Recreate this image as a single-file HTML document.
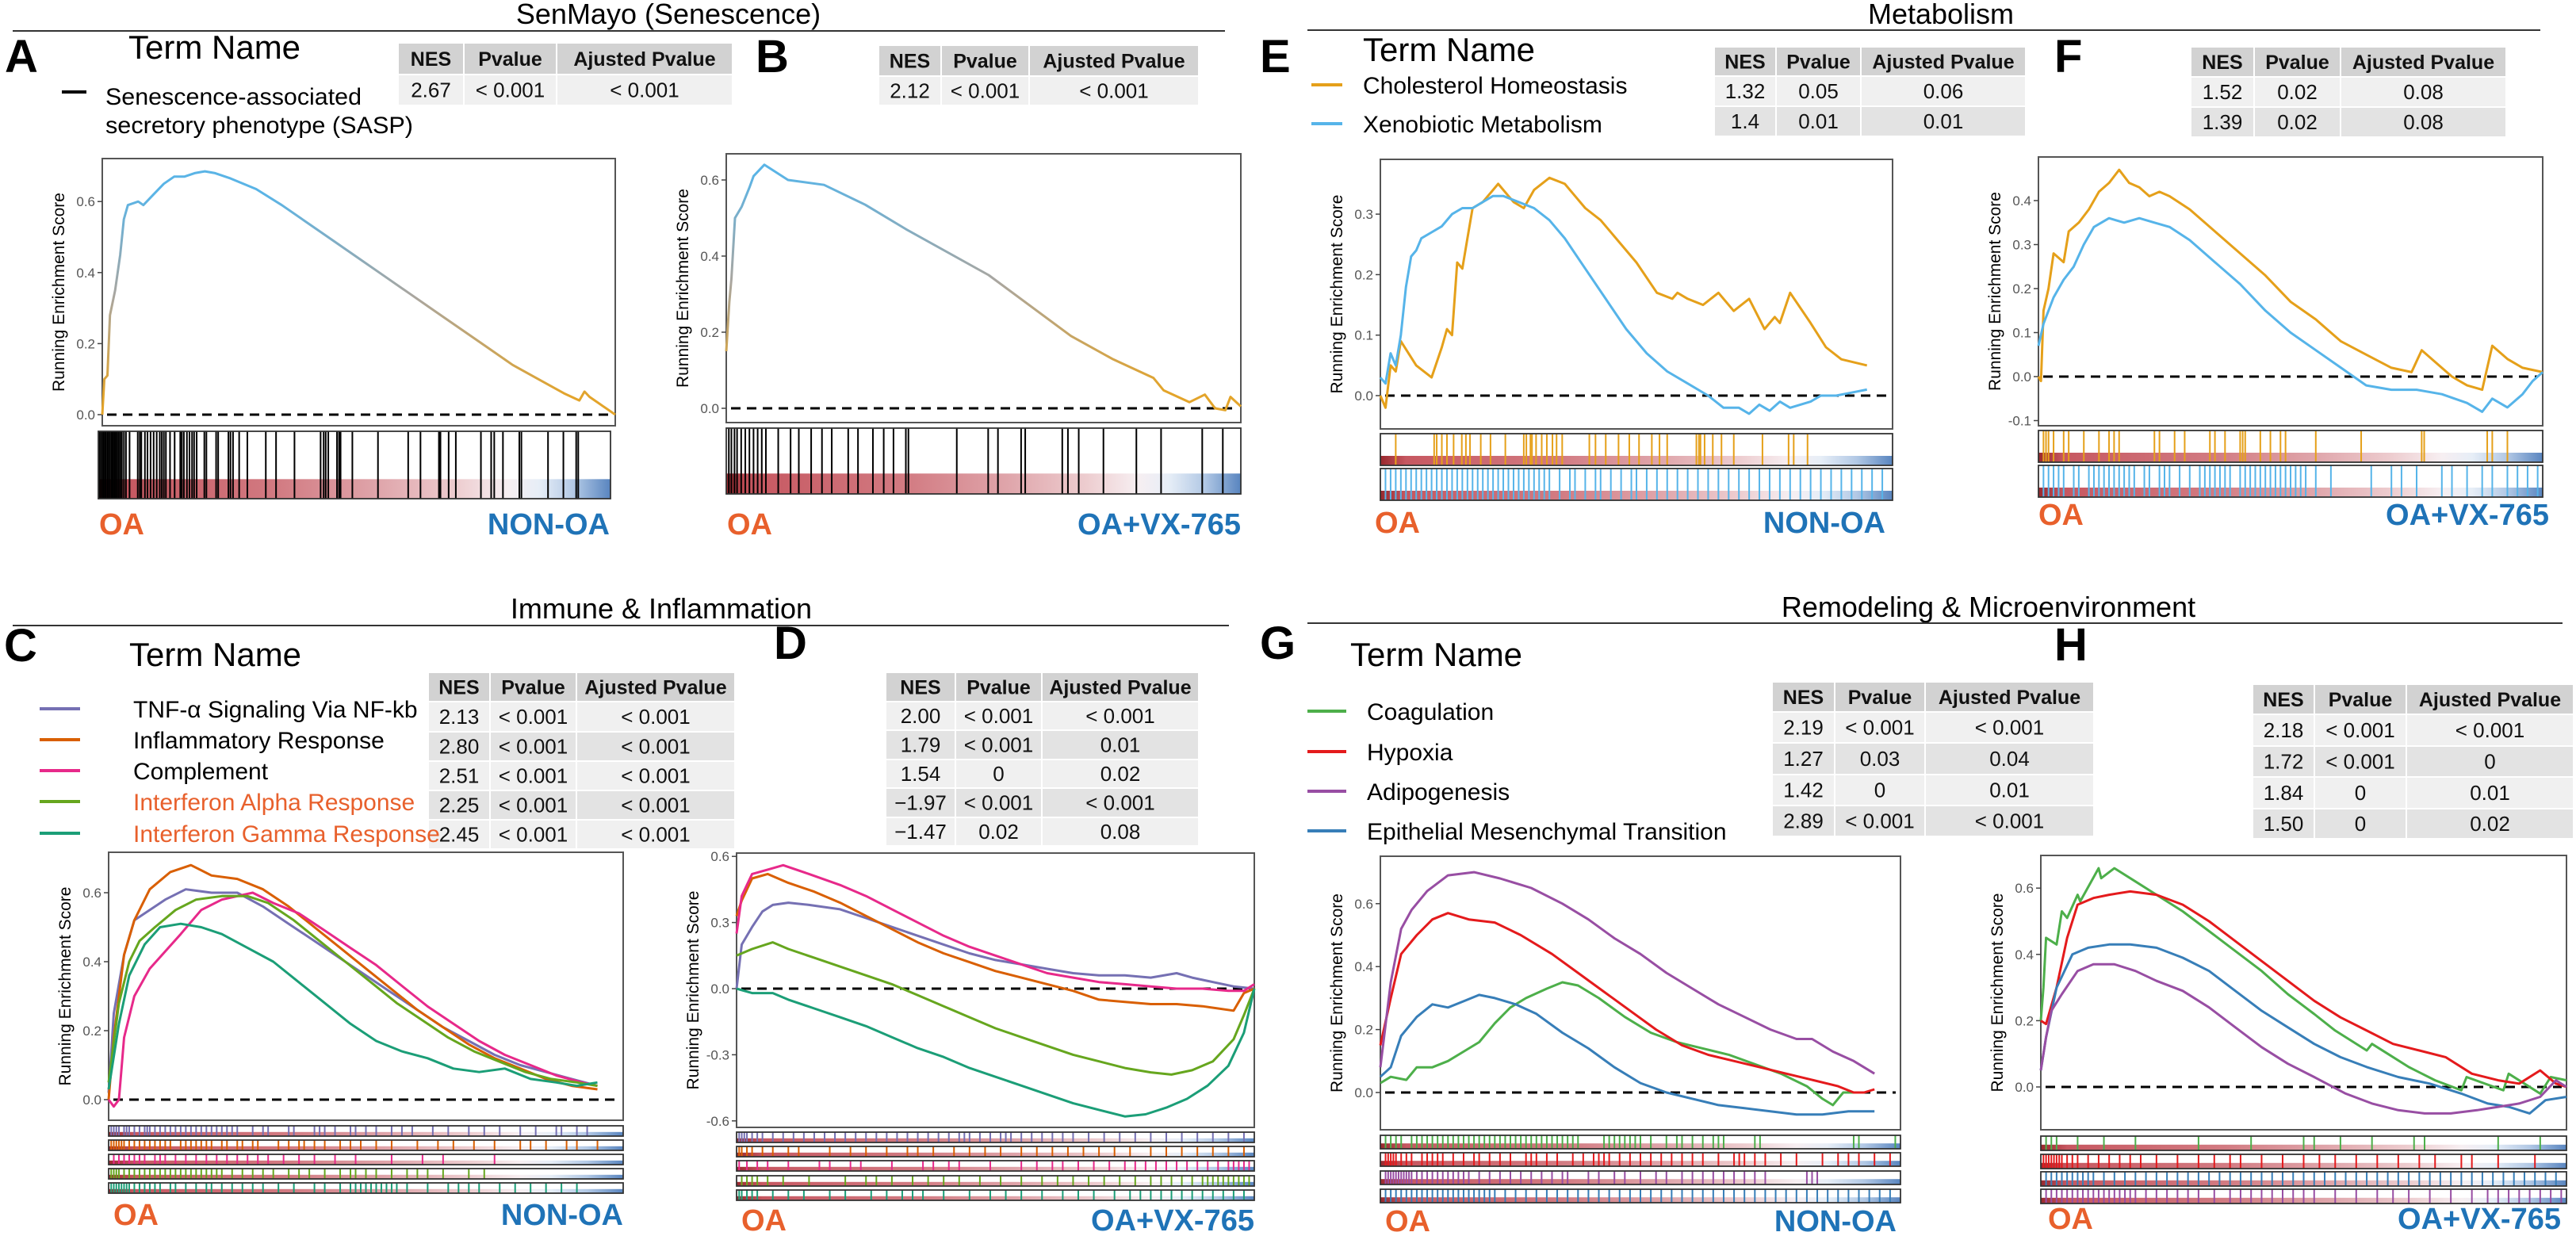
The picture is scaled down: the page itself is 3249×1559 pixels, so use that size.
<!DOCTYPE html>
<html><head><meta charset="utf-8">
<style>
html,body{margin:0;padding:0;background:#fff;}
svg{display:block;font-family:"Liberation Sans",sans-serif;}
</style></head>
<body>
<svg id="fig" xmlns="http://www.w3.org/2000/svg" width="3249" height="1559" viewBox="0 0 3249 1559">
<defs>
<linearGradient id="heat" x1="0" y1="0" x2="1" y2="0">
<stop offset="0" stop-color="#8e1016"/><stop offset="0.05" stop-color="#c0454f"/><stop offset="0.35" stop-color="#cd6c74"/><stop offset="0.55" stop-color="#dc9ca2"/><stop offset="0.7" stop-color="#ebc7ca"/><stop offset="0.8" stop-color="#f6edf0"/><stop offset="0.86" stop-color="#e4ecf6"/><stop offset="0.93" stop-color="#a9c2e2"/><stop offset="1" stop-color="#4677b8"/>
</linearGradient>
</defs>
<g font-size="36" text-anchor="middle" fill="#000">
<text x="843" y="30">SenMayo (Senescence)</text>
<text x="2448" y="30">Metabolism</text>
<text x="834" y="780">Immune &amp; Inflammation</text>
<text x="2508" y="778">Remodeling &amp; Microenvironment</text>
</g>
<g stroke="#333" stroke-width="2">
<line x1="16" y1="39" x2="1545" y2="39"/>
<line x1="1649" y1="38" x2="3204" y2="38"/>
<line x1="16" y1="789" x2="1550" y2="789"/>
<line x1="1649" y1="786" x2="3232" y2="786"/>
</g>
<g font-size="58" font-weight="bold">
<text x="6" y="91">A</text>
<text x="953" y="91">B</text>
<text x="1589" y="91">E</text>
<text x="2591" y="91">F</text>
<text x="5" y="834">C</text>
<text x="976" y="831">D</text>
<text x="1589" y="831">G</text>
<text x="2591" y="833">H</text>
</g>
<g font-size="42">
<text x="162" y="74">Term Name</text>
<text x="1719" y="77">Term Name</text>
<text x="163" y="840">Term Name</text>
<text x="1703" y="840">Term Name</text>
</g>
<g font-size="30">
<line x1="78" y1="116" x2="109" y2="116" stroke="#000" stroke-width="4"/>
<text x="133" y="132" textLength="323" lengthAdjust="spacingAndGlyphs">Senescence-associated</text>
<text x="133" y="168" textLength="388" lengthAdjust="spacingAndGlyphs">secretory phenotype (SASP)</text>
</g>
<g id="content"></g>
</svg>
<script>
// ---------- data: x = rank position (%), y = running enrichment score ----------
const axA = [0,0.4,1,1.5,2.5,3.5,4.2,5,7,8,10,12,14,16,18,20,22,25,30,35,40,45,50,55,60,65,70,75,80,85,90,93,94,95,100];
const ayA = [0,0.10,0.11,0.28,0.35,0.45,0.55,0.59,0.60,0.59,0.62,0.65,0.67,0.67,0.68,0.685,0.68,0.665,0.635,0.59,0.54,0.49,0.44,0.39,0.34,0.29,0.24,0.19,0.14,0.10,0.06,0.04,0.065,0.05,0.0];
const hitsA = [0.2,0.5,0.8,1,1.3,1.5,1.8,2,2.3,2.6,2.8,3.1,3.4,3.7,4,4.3,4.6,5,5.4,6.1,7.7,8.1,8.4,9.1,9.6,10.2,10.8,11.4,12,12.4,12.8,13.2,14,14.9,16,16.3,16.7,17.3,17.8,18.3,18.7,19.2,20.7,21.1,23,23.4,25.4,25.8,26.3,27.5,29.1,32.7,34.7,38.3,43.4,44,44.4,44.9,46.6,47,47.3,49.6,54.6,60.5,62.9,66.5,66.8,68.4,69.8,74.7,76.7,77.3,79,82.2,82.6,87.8,90.8,93.3,93.7];

const bxB = [0,0.6,1,1.7,3,4.5,5.3,7.4,12,19,27,35,51,67,75,83,85,90,93,95,97,98,100];
const byB = [0.15,0.28,0.34,0.50,0.53,0.58,0.61,0.64,0.60,0.587,0.535,0.47,0.35,0.19,0.13,0.08,0.047,0.016,0.036,0.0,-0.005,0.03,0.005];
const hitsB = [0.5,1,1.6,2.1,2.9,3.7,4.5,5.3,6.1,6.9,7.7,10.1,12.5,14.1,16.5,18.6,20.5,23.7,25.6,28.5,30.6,32.5,34.9,35.4,44.8,50.9,52.8,57.3,58.1,65.3,66.4,68.5,73.3,79.7,84.5,92.5,96.5];

const cx1 = [0,1,3,5,8,11,15,20,25,30,35,40,45,50,55,60,65,70,75,80,85,90,95];
const cy1 = [0.02,0.25,0.42,0.52,0.55,0.58,0.61,0.60,0.60,0.56,0.51,0.46,0.41,0.36,0.31,0.26,0.21,0.17,0.13,0.10,0.08,0.06,0.04];
const cx2 = [0,1,3,5,8,12,16,20,25,30,35,40,45,50,55,60,65,70,75,80,85,90,95];
const cy2 = [0,0.18,0.42,0.52,0.61,0.66,0.68,0.65,0.64,0.61,0.56,0.50,0.44,0.38,0.32,0.26,0.21,0.16,0.12,0.09,0.06,0.04,0.03];
const cx3 = [0,1,2,3,5,8,11,14,18,22,28,32,37,42,47,52,57,62,67,72,77,82,87,92,95];
const cy3 = [0,-0.02,0,0.18,0.30,0.38,0.43,0.48,0.55,0.58,0.60,0.57,0.54,0.49,0.44,0.39,0.33,0.27,0.22,0.17,0.13,0.10,0.07,0.05,0.04];
const cx4 = [0,2,4,6,9,13,17,22,27,31,36,41,46,51,56,61,66,71,76,81,86,91,95];
const cy4 = [0.05,0.28,0.40,0.46,0.50,0.55,0.58,0.59,0.59,0.57,0.52,0.46,0.40,0.34,0.28,0.23,0.18,0.14,0.11,0.08,0.06,0.05,0.04];
const cx5 = [0,2,4,7,10,14,18,22,27,32,37,42,47,52,57,62,67,72,77,82,87,91,95];
const cy5 = [0.03,0.22,0.36,0.45,0.50,0.51,0.50,0.48,0.44,0.40,0.34,0.28,0.22,0.17,0.14,0.12,0.09,0.08,0.09,0.06,0.05,0.04,0.05];
const hitsC1 = [0.5,1,1.5,2,3,3.5,4,5,6,7,7.5,8,9,10,11,12,13,14,15,16,17,18,19,20,21,22,23,24,25,28,30,31,35,36,40,41,42,44,47,48,50,52,55,57,59,63,66,70,73,76,80,83,87,88,91,93];
const hitsC2 = [0.5,1,1.5,2,2.5,3,4,5,6,7,8,9,10,11,12,14,15,16,17,18,19,20,22,23,25,26,28,29,33,35,37,38,40,42,45,47,49,52,55,60,64,67,71,75,80,82,85,89,91,95];
const hitsC3 = [1,2,3,4,5,6,7,9,10,11,13,15,17,19,21,23,25,27,29,31,34,37,40,44,48,55,61,65,75];
const hitsC4 = [0.5,1,1.5,2,3,4,5,6,7,8,9,10,11,12,13,14,15,16,17,18,19,20,21,22,24,26,28,30,32,35,37,39,42,45,47,48,50,52,55,58,60,62,65,70,73];
const hitsC5 = [0.5,1,1.5,2,2.5,3,3.5,4,5,6,7,8,9,10,12,13,15,17,19,20,22,24,26,28,30,33,36,40,42,45,47,48,49,50,51,52,53,54,55,56,58,62,66,68,70,72,76,79,82,85,88,91];

const dx1 = [0,1,3,5,7,10,14,20,25,30,35,40,45,50,55,60,65,70,75,80,85,88,92,96,100];
const dy1 = [0,0.2,0.28,0.35,0.38,0.39,0.38,0.36,0.32,0.28,0.24,0.20,0.16,0.13,0.11,0.09,0.07,0.06,0.06,0.05,0.07,0.05,0.03,0.01,0];
const dx2 = [0,1,3,6,10,15,20,25,30,35,40,45,50,55,60,65,70,75,80,85,90,96,98,100];
const dy2 = [0.33,0.40,0.50,0.52,0.48,0.44,0.39,0.33,0.27,0.21,0.16,0.12,0.08,0.05,0.02,-0.01,-0.05,-0.06,-0.07,-0.07,-0.08,-0.10,-0.02,0];
const dx3 = [0,1,3,6,9,14,20,25,30,35,40,45,50,55,60,65,70,75,80,85,90,95,98,100];
const dy3 = [0.25,0.42,0.52,0.54,0.56,0.52,0.47,0.42,0.36,0.30,0.24,0.19,0.15,0.11,0.07,0.05,0.03,0.02,0.01,0,0,-0.01,-0.01,0.02];
const dx4 = [0,3,7,10,15,20,25,30,35,40,45,50,55,60,65,70,75,80,84,88,92,96,98,100];
const dy4 = [0.15,0.18,0.21,0.18,0.14,0.10,0.06,0.02,-0.03,-0.08,-0.13,-0.18,-0.22,-0.26,-0.30,-0.33,-0.36,-0.38,-0.39,-0.37,-0.33,-0.23,-0.12,0];
const dx5 = [0,3,7,10,15,20,25,30,35,40,45,50,55,60,65,70,75,79,83,87,91,95,98,100];
const dy5 = [0,-0.02,-0.02,-0.05,-0.09,-0.13,-0.17,-0.22,-0.27,-0.31,-0.36,-0.40,-0.44,-0.48,-0.52,-0.55,-0.58,-0.57,-0.54,-0.50,-0.44,-0.35,-0.2,0];
const hitsD1 = [0.5,1,1.5,2,3,4,5,7,9,11,13,15,17,19,21,23,25,27,29,31,33,35,37,39,41,43,44,45,47,49,51,52,53,55,57,59,61,63,65,68,71,74,77,80,83,86,89,92,95,98];
const hitsD2 = [0.5,1,2,3,5,7,10,12,18,22,25,29,33,35,38,42,45,48,51,55,58,61,64,67,70,73,76,80,83,86,89,92,95,98];
const hitsD3 = [0.5,2,4,6,10,16,18,22,24,30,36,38,41,43,49,55,58,61,63,66,69,72,75,77,79,81,83,85,87,89,91,93,95,96,97,98,99];
const hitsD4 = [1,2,3,4,6,9,14,21,25,27,30,34,37,40,43,47,51,55,59,62,65,68,71,74,77,80,82,84,86,88,90,91,92,93,94,95,96,97,98,99];
const hitsD5 = [0.5,1,2,3,4,7,10,13,18,21,26,29,32,34,36,40,45,49,52,55,59,63,66,69,73,76,78,80,82,84,86,88,90,92,94,96,98];

const ex1 = [0,1,2,3,4,7,10,12,13,14,15,16,17,18,20,22,23,26,28,30,33,36,38,40,43,46,50,54,57,58,60,63,66,69,72,75,77,78,80,84,87,90,95];
const ey1 = [0,-0.02,0.05,0.04,0.09,0.05,0.03,0.08,0.11,0.10,0.22,0.21,0.26,0.31,0.32,0.34,0.35,0.32,0.31,0.34,0.36,0.35,0.33,0.31,0.29,0.26,0.22,0.17,0.16,0.17,0.16,0.15,0.17,0.14,0.16,0.11,0.13,0.12,0.17,0.12,0.08,0.06,0.05];
const ex2 = [0,1,2,3,4,5,6,7,8,10,12,14,16,18,20,22,24,27,30,33,36,40,44,48,52,56,60,64,67,70,72,74,76,78,80,82,84,86,89,92,95];
const ey2 = [0.03,0.02,0.07,0.05,0.10,0.18,0.23,0.24,0.26,0.27,0.28,0.30,0.31,0.31,0.32,0.33,0.33,0.32,0.31,0.29,0.26,0.21,0.16,0.11,0.07,0.04,0.02,0,-0.02,-0.02,-0.03,-0.015,-0.025,-0.01,-0.02,-0.015,-0.01,0,0,0.005,0.01];
const hitsE1 = [3,10.5,11,12,13,14.3,15.9,16.7,17.5,19.6,21.5,24.4,28,28.5,29.3,29.6,30.4,31.5,32.5,33.6,34.4,35.5,40.8,42,44,46.5,48.6,50.5,53,54.5,56,61.7,62.2,62.5,63.3,64.9,66.6,69,74.6,79.7,80.7,83.4];
const hitsE2 = [1,2,3,4,5,6,7,8,9,10,11,12,13,14,15,16,17,18,19,20,21,22,23,24,25,26,27,28,29,30,31,32,33,35,37,38,40,42,43,45,47,49,50,52,54,56,58,60,62,64,66,68,70,72,74,76,78,80,82,84,86,88,90,92,94,96,98];

const fx1 = [0,0.5,1,2,3,5,6,8,10,12,14,16,18,20,22,24,26,30,35,40,45,50,55,60,65,70,74,76,79,82,85,88,90,93,96,100];
const fy1 = [0,-0.01,0.15,0.2,0.28,0.26,0.33,0.35,0.38,0.42,0.44,0.47,0.44,0.43,0.41,0.42,0.41,0.38,0.33,0.28,0.23,0.17,0.13,0.08,0.05,0.02,0.01,0.06,0.03,0,-0.02,-0.03,0.07,0.04,0.02,0.01];
const fx2 = [0,1,3,5,7,9,11,14,17,20,23,26,30,35,40,45,50,55,60,65,70,75,80,85,88,90,93,96,98,100];
const fy2 = [0.07,0.12,0.18,0.22,0.25,0.30,0.34,0.36,0.35,0.36,0.35,0.34,0.31,0.26,0.21,0.15,0.10,0.06,0.02,-0.02,-0.03,-0.03,-0.04,-0.06,-0.08,-0.05,-0.07,-0.04,-0.01,0.01];
const hitsF1 = [1,1.5,2,3,5,6,9,12,14,15,16,23,24,27,29,34,35,37,40,40.5,41,44,46,48,49,55,64,76,76.5,89,90,93];
const hitsF2 = [1,2,3,4,5,7,8,10,11,12,13,14,15,16,17,18,19,21,22,24,25,26,28,30,32,33,34,35,36,37,38,40,41,42,43,44,45,46,47,48,49,50,51,52,53,55,58,66,70,72,75,80,82,85,88,90,93,95,97,99];

const gx1 = [0,2,5,7,10,13,16,19,22,25,28,32,35,38,42,47,52,57,62,67,72,77,82,85,87,89,91];
const gy1 = [0.03,0.05,0.04,0.08,0.08,0.10,0.13,0.16,0.22,0.27,0.30,0.33,0.35,0.34,0.30,0.24,0.19,0.16,0.14,0.12,0.09,0.06,0.02,-0.02,-0.04,0,0];
const gx2 = [0,2,4,7,10,13,17,22,27,33,38,43,48,53,58,63,68,73,78,83,88,91,93,95];
const gy2 = [0.15,0.30,0.44,0.50,0.55,0.57,0.55,0.54,0.50,0.44,0.38,0.32,0.26,0.20,0.15,0.12,0.10,0.08,0.06,0.04,0.02,0,0,0.01];
const gx3 = [0,2,4,6,9,13,18,23,29,35,40,45,50,55,60,65,70,75,80,83,87,91,95];
const gy3 = [0.08,0.35,0.52,0.58,0.64,0.69,0.70,0.68,0.65,0.60,0.55,0.49,0.44,0.38,0.33,0.28,0.24,0.20,0.17,0.17,0.13,0.10,0.06];
const gx4 = [0,2,4,7,10,13,16,19,22,26,30,35,40,45,50,55,60,65,70,75,80,85,90,95];
const gy4 = [0.05,0.08,0.18,0.24,0.28,0.27,0.29,0.31,0.30,0.28,0.25,0.19,0.14,0.08,0.03,0,-0.02,-0.04,-0.05,-0.06,-0.07,-0.07,-0.06,-0.06];
const hitsG1 = [1,2,3,4,6,7,8,9,10,11,12,13,14,15,16,17,18,19,20,21,22,23,24,25,26,27,28,29,30,31,32,33,34,35,36,37,38,43,44,45,46,47,48,49,50,52,55,57,58,60,62,64,65,66,72,73,91,92,99];
const hitsG2 = [1,1.5,2,2.5,3,4,5,6,8,9,10,11,12,14,16,18,19,21,23,25,28,29,30,32,34,37,39,41,42,43,44,46,48,50,52,54,56,58,60,62,65,68,69,70,72,74,77,80,85,88,90,92,95,98];
const hitsG3 = [1,1.5,2,2.5,3,3.5,4,4.5,5,5.5,6,7,8,9,10,11,12,13,14,15,16,17,19,21,23,25,27,29,31,33,35,36,40,42,45,47,50,53,55,58,60,62,64,66,68,70,72,74,82,83,84];
const hitsG4 = [1,2,3,4,5,6,7,8,9,10,11,12,13,14,15,16,17,18,19,20,21,22,24,26,28,30,32,34,36,38,40,42,44,46,48,50,52,54,56,58,60,62,64,66,68,70,72,74,76,78,80,82,84,86,88,90,92,94,96,98];

const hx1 = [0,0.5,1,3,4,5,7,7.5,11,11.5,14,18,22,27,32,37,42,47,52,56,62,63,66,70,75,80,81,88,89,94,95,97,100];
const hy1 = [0.2,0.3,0.45,0.43,0.53,0.51,0.58,0.56,0.66,0.63,0.66,0.62,0.58,0.53,0.47,0.41,0.35,0.28,0.22,0.17,0.11,0.13,0.10,0.06,0.02,-0.01,0.03,-0.01,0.04,-0.01,-0.02,0.03,0.02];
const hx2 = [0,1,3,5,7,10,13,17,22,27,32,37,42,47,52,57,62,67,72,77,82,87,91,95,98,100];
const hy2 = [0.2,0.19,0.3,0.45,0.55,0.57,0.58,0.59,0.58,0.55,0.50,0.44,0.38,0.32,0.26,0.21,0.17,0.13,0.11,0.09,0.04,0.02,0.01,0.05,0.01,0];
const hx3 = [0,1,3,6,9,13,17,22,27,32,37,42,47,52,57,62,68,74,80,85,89,93,96,100];
const hy3 = [0.05,0.15,0.3,0.40,0.42,0.43,0.43,0.42,0.39,0.35,0.29,0.23,0.18,0.13,0.09,0.06,0.03,0.01,-0.02,-0.05,-0.06,-0.08,-0.04,-0.03];
const hx4 = [0,1,2,4,7,10,14,18,22,27,32,37,42,47,52,58,63,68,73,78,83,87,91,95,98,100];
const hy4 = [0.05,0.15,0.23,0.28,0.35,0.37,0.37,0.35,0.32,0.29,0.24,0.18,0.12,0.07,0.03,-0.02,-0.05,-0.07,-0.08,-0.08,-0.07,-0.06,-0.05,-0.03,0.02,0];
const hitsH1 = [1,2,3,7,12,18,30,40,50,52,57,63,71,73,87,95];
const hitsH2 = [0.5,1,1.5,2,2.5,3,3.5,4,5,6,7,9,11,13,15,17,19,22,26,30,33,36,38,42,46,50,53,56,60,64,68,72,75,80,82,87,94];
const hitsH3 = [1,2,3,4,5,6,7,8,9,10,12,14,16,18,20,22,24,26,28,30,32,34,36,38,40,42,44,46,48,50,52,54,56,58,60,62,64,66,68,70,72,74,76,78,80,82,84,86,88,90,92,94,96,98];
const hitsH4 = [1,2,3,4,5,6,7,8,9,10,11,12,13,14,15,16,17,18,20,22,24,26,28,30,33,36,38,40,42,44,46,48,50,52,56,60,64,67,70,74,78,82,85,87,89,91,93,95,97,99];

// ---------- table data ----------
const tableHeaders = ["NES","Pvalue","Ajusted Pvalue"];
const nesA = ["2.67"], pA = ["< 0.001"], adjA = ["< 0.001"];
const nesB = ["2.12"], pB = ["< 0.001"], adjB = ["< 0.001"];
const nesE = ["1.32","1.4"], pE = ["0.05","0.01"], adjE = ["0.06","0.01"];
const nesF = ["1.52","1.39"], pF = ["0.02","0.02"], adjF = ["0.08","0.08"];
const nesC = ["2.13","2.80","2.51","2.25","2.45"], pC = ["< 0.001","< 0.001","< 0.001","< 0.001","< 0.001"], adjC = ["< 0.001","< 0.001","< 0.001","< 0.001","< 0.001"];
const nesD = ["2.00","1.79","1.54","\u22121.97","\u22121.47"], pD = ["< 0.001","< 0.001","0","< 0.001","0.02"], adjD = ["< 0.001","0.01","0.02","< 0.001","0.08"];
const nesG = ["2.19","1.27","1.42","2.89"], pG = ["< 0.001","0.03","0","< 0.001"], adjG = ["< 0.001","0.04","0.01","< 0.001"];
const nesH = ["2.18","1.72","1.84","1.50"], pH = ["< 0.001","< 0.001","0","0"], adjH = ["< 0.001","0","0.01","0.02"];

const termsC = ["TNF-\u03b1 Signaling Via NF-kb","Inflammatory Response","Complement","Interferon Alpha Response","Interferon Gamma Response"];
const termsE = ["Cholesterol Homeostasis","Xenobiotic Metabolism"];
const termsG = ["Coagulation","Hypoxia","Adipogenesis","Epithelial Mesenchymal Transition"];

const NS = "http://www.w3.org/2000/svg";
const root = document.getElementById("content");
function mk(tag, attrs, parent){
  const e = document.createElementNS(NS, tag);
  for (const k in attrs) e.setAttribute(k, attrs[k]);
  (parent || root).appendChild(e);
  return e;
}

function drawTable(id, cols, rows, nes, pv, adj){
  const g = mk("g", {});
  
  
  const cells = [tableHeaders].concat(nes.map((n,i)=>[n, pv[i], adj[i]]));
  for (let r = 0; r < cells.length; r++){
    for (let c = 0; c < 3; c++){
      const fill = r === 0 ? "#d2d2d2" : (r % 2 === 1 ? "#f0f0f0" : "#e3e3e3");
      const rc = mk("rect", {x: cols[c]+1, y: rows[r]+1, width: cols[c+1]-cols[c]-2, height: rows[r+1]-rows[r]-2, fill: fill}, g);
      
      
      const t = mk("text", {x: (cols[c]+cols[c+1])/2, y: (rows[r]+rows[r+1])/2 + 9, "text-anchor": "middle", "font-size": r === 0 ? 25 : 26, "font-weight": r === 0 ? "bold" : "normal", fill: "#111"}, g);
      
      
      t.textContent = cells[r][c];
    }
  }
}
drawTable("a",[502,585,702,924],[54,94,133],nesA,pA,adjA);
drawTable("b",[1108,1187,1298,1512],[57,96,133],nesB,pB,adjB);
drawTable("e",[2162,2240,2347,2555],[59,96,134,172],nesE,pE,adjE);
drawTable("f",[2763,2843,2952,3161],[59,97,135,173],nesF,pF,adjF);
drawTable("c",[540,618,727,927],[848,885,923,960,997,1034,1071],nesC,pC,adjC);
drawTable("d",[1117,1205,1314,1512],[848,885,921,958,994,1031,1067],nesD,pD,adjD);
drawTable("g",[2235,2314,2428,2641],[860,898,937,977,1016,1055],nesG,pG,adjG);
drawTable("h",[2841,2919,3035,3246],[863,901,941,980,1020,1058],nesH,pH,adjH);

function drawLegend(id, terms, colors, textColors, x1, x2, tx, ys){
  for (let i = 0; i < terms.length; i++){
    const l = mk("line", {x1: x1, x2: x2, y1: ys[i], y2: ys[i], stroke: colors[i], "stroke-width": 4});
    
    
    const t = mk("text", {x: tx, y: ys[i] + 11, "font-size": 30, fill: textColors[i]});
    
    
    t.textContent = terms[i];
  }
}
const OR = "#e8602c";
drawLegend("c", termsC, ["#7570b3","#d95f02","#e7298a","#66a61e","#1b9e77"], ["#000","#000","#000",OR,OR], 50, 101, 168, [894,933,972,1011,1051]);
drawLegend("e", termsE, ["#e5a01a","#56b4e9"], ["#000","#000"], 1654, 1693, 1719, [107,156]);
drawLegend("g", termsG, ["#4daf4a","#e41a1c","#984ea3","#377eb8"], ["#000","#000","#000","#000"], 1649, 1698, 1724, [897,948,998,1048]);

function drawPanel(p){
  const g = mk("g", {});
  
  
  const yS = v => p.y0 - v * p.k;
  const xS = r => p.x + r / 100 * p.w;
  const box = mk("rect", {x: p.x, y: p.y, width: p.w, height: p.h, fill: "#fff", stroke: "#555", "stroke-width": 2}, g);
  
  
  for (const t of p.ticks){
    const tl = mk("line", {x1: p.x - 6, x2: p.x, y1: yS(t), y2: yS(t), stroke: "#444", "stroke-width": 1.5}, g);
    
    
    const tx = mk("text", {x: p.x - 9, y: yS(t) + 6, "text-anchor": "end", "font-size": 17, fill: "#555"}, g);
    
    
    tx.textContent = t.toFixed(1);
  }
  const cy = p.y + p.h / 2;
  const yt = mk("text", {x: p.x - 48, y: cy, "text-anchor": "middle", "font-size": 21, transform: "rotate(-90 " + (p.x - 48) + " " + cy + ")"}, g);
  
  
  yt.textContent = "Running Enrichment Score";
  const z = mk("line", {x1: p.x + 6, x2: p.x + p.w - 6, y1: yS(0), y2: yS(0), stroke: "#000", "stroke-width": 3, "stroke-dasharray": "12 8"}, g);
  
  
  if (p.grad){
    const lg = mk("linearGradient", {id: "grad" + p.id, gradientUnits: "userSpaceOnUse", x1: 0, x2: 0, y1: yS(0.05), y2: yS(0.62)}, document.querySelector("defs"));
    mk("stop", {offset: 0, "stop-color": "#e3a42a"}, lg);
    mk("stop", {offset: 0.5, "stop-color": "#a9a6a0"}, lg);
    mk("stop", {offset: 1, "stop-color": "#5ab4e6"}, lg);
  }
  p.series.forEach((s, i) => {
    let d = "";
    for (let j = 0; j < s.xs.length; j++) d += (j ? "L" : "M") + xS(s.xs[j]).toFixed(1) + "," + yS(s.ys[j]).toFixed(1);
    const path = mk("path", {d: d, fill: "none", stroke: p.grad ? "url(#grad" + p.id + ")" : s.color, "stroke-width": 3, "stroke-linejoin": "round"}, g);
    
    
  });
  p.series.forEach((s, i) => {
    const sy = p.stripTops[i], sh = p.stripH;
    const rx = p.rugX, rw = p.rugW;
    const band = mk("rect", {x: rx, y: sy + sh * (1 - p.bandFrac), width: rw, height: sh * p.bandFrac, fill: "url(#heat)", opacity: 0.9}, g);
    
    
    for (const h of s.hits){
      const hx = rx + h / 100 * rw;
      const hl = mk("line", {x1: hx, x2: hx, y1: sy, y2: sy + sh, stroke: p.grad ? "#000" : s.color, "stroke-width": 2}, g);
      
      
    }
    const fr = mk("rect", {x: rx, y: sy, width: rw, height: sh, fill: "none", stroke: "#333", "stroke-width": 1.8}, g);
    
    
  });
  const l1 = mk("text", {x: p.labL, y: p.labY, "font-size": 38, "font-weight": "bold", fill: OR}, g);
  
  
  l1.textContent = "OA";
  const l2 = mk("text", {x: p.labR, y: p.labY, "text-anchor": "end", "font-size": 38, "font-weight": "bold", fill: "#1f73b7"}, g);
  
  
  l2.textContent = p.right;
}

drawPanel({id:"a", x:129, y:200, w:647, h:337, y0:523, k:448, ticks:[0,0.2,0.4,0.6], grad:true,
  series:[{xs:axA, ys:ayA, hits:hitsA, color:"#000"}], rugX:124, rugW:646, stripTops:[544], stripH:85, bandFrac:0.29,
  labL:125, labR:769, labY:674, right:"NON-OA"});
drawPanel({id:"b", x:916, y:194, w:649, h:339, y0:515, k:480, ticks:[0,0.2,0.4,0.6], grad:true,
  series:[{xs:bxB, ys:byB, hits:hitsB, color:"#000"}], rugX:916, rugW:649, stripTops:[540], stripH:83, bandFrac:0.31,
  labL:917, labR:1565, labY:674, right:"OA+VX-765"});
drawPanel({id:"c", x:137, y:1075, w:649, h:338, y0:1387, k:435, ticks:[0,0.2,0.4,0.6],
  series:[{xs:cx1,ys:cy1,hits:hitsC1,color:"#7570b3"},{xs:cx2,ys:cy2,hits:hitsC2,color:"#d95f02"},{xs:cx3,ys:cy3,hits:hitsC3,color:"#e7298a"},{xs:cx4,ys:cy4,hits:hitsC4,color:"#66a61e"},{xs:cx5,ys:cy5,hits:hitsC5,color:"#1b9e77"}],
  rugX:137, rugW:649, stripTops:[1420,1438,1456,1474,1492], stripH:13, bandFrac:0.4, labL:143, labR:786, labY:1545, right:"NON-OA"});
drawPanel({id:"d", x:929, y:1076, w:653, h:346, y0:1247, k:278, ticks:[-0.6,-0.3,0,0.3,0.6],
  series:[{xs:dx1,ys:dy1,hits:hitsD1,color:"#7570b3"},{xs:dx2,ys:dy2,hits:hitsD2,color:"#d95f02"},{xs:dx3,ys:dy3,hits:hitsD3,color:"#e7298a"},{xs:dx4,ys:dy4,hits:hitsD4,color:"#66a61e"},{xs:dx5,ys:dy5,hits:hitsD5,color:"#1b9e77"}],
  rugX:929, rugW:653, stripTops:[1428,1446,1464,1483,1501], stripH:13, bandFrac:0.4, labL:935, labR:1582, labY:1552, right:"OA+VX-765"});
drawPanel({id:"e", x:1741, y:201, w:646, h:340, y0:499, k:763, ticks:[0,0.1,0.2,0.3],
  series:[{xs:ex1,ys:ey1,hits:hitsE1,color:"#e5a01a"},{xs:ex2,ys:ey2,hits:hitsE2,color:"#56b4e9"}],
  rugX:1741, rugW:646, stripTops:[547,591], stripH:40, bandFrac:0.3, labL:1734, labR:2378, labY:672, right:"NON-OA"});
drawPanel({id:"f", x:2571, y:198, w:636, h:339, y0:475, k:555, ticks:[-0.1,0,0.1,0.2,0.3,0.4],
  series:[{xs:fx1,ys:fy1,hits:hitsF1,color:"#e5a01a"},{xs:fx2,ys:fy2,hits:hitsF2,color:"#56b4e9"}],
  rugX:2571, rugW:636, stripTops:[543,587], stripH:40, bandFrac:0.3, labL:2571, labR:3215, labY:662, right:"OA+VX-765"});
drawPanel({id:"g", x:1741, y:1080, w:656, h:345, y0:1378, k:397, ticks:[0,0.2,0.4,0.6],
  series:[{xs:gx1,ys:gy1,hits:hitsG1,color:"#4daf4a"},{xs:gx2,ys:gy2,hits:hitsG2,color:"#e41a1c"},{xs:gx3,ys:gy3,hits:hitsG3,color:"#984ea3"},{xs:gx4,ys:gy4,hits:hitsG4,color:"#377eb8"}],
  rugX:1741, rugW:656, stripTops:[1432,1454,1477,1500], stripH:17, bandFrac:0.4, labL:1747, labR:2392, labY:1553, right:"NON-OA"});
drawPanel({id:"h", x:2574, y:1079, w:663, h:346, y0:1371, k:418, ticks:[0,0.2,0.4,0.6],
  series:[{xs:hx1,ys:hy1,hits:hitsH1,color:"#4daf4a"},{xs:hx2,ys:hy2,hits:hitsH2,color:"#e41a1c"},{xs:hx3,ys:hy3,hits:hitsH3,color:"#377eb8"},{xs:hx4,ys:hy4,hits:hitsH4,color:"#984ea3"}],
  rugX:2574, rugW:663, stripTops:[1433,1456,1478,1500], stripH:18, bandFrac:0.4, labL:2583, labR:3230, labY:1550, right:"OA+VX-765"});
</script>
</body></html>
